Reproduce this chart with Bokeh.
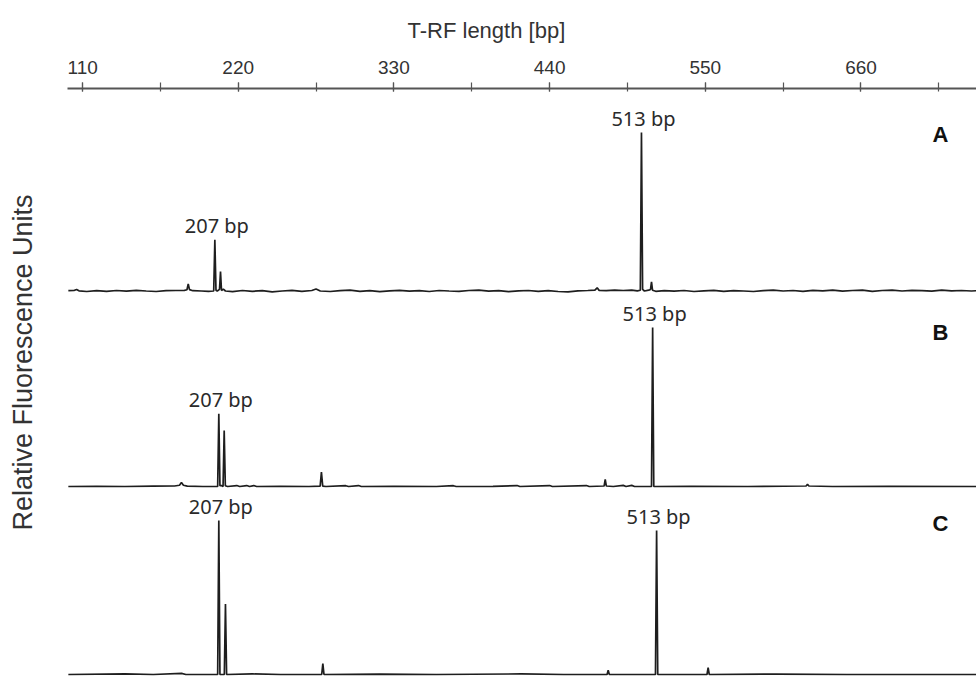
import numpy as np
from bokeh.plotting import figure
from bokeh.layouts import row, column
from bokeh.models import Range1d, SingleIntervalTicker, Label
from bokeh.core.properties import value
from bokeh.embed import file_html
from bokeh.resources import INLINE

# ---------------- data (T-RF length in bp, relative fluorescence in % of the 513 bp peak) -------------
A_bp = [100, 104, 105.8, 107.5, 113, 120, 127, 134, 141, 148, 155, 162, 169, 176, 182, 183.8, 184.7, 185.6,
        188, 194, 199, 202.7, 203.5, 204.3, 205.2, 206.8, 207.5, 208.2, 209.5, 211, 216, 223, 230, 237, 244,
        251, 258, 265, 272, 275, 278, 285, 292, 299, 306, 313, 320, 327, 334, 341, 348, 355, 362, 369, 376,
        383, 390, 397, 404, 411, 418, 425, 432, 439, 446, 453, 460, 467, 472, 473.6, 475, 480, 486, 492, 498,
        502, 504.1, 504.9, 505.7, 507, 510, 511.3, 512, 512.7, 515, 521, 528, 535, 542, 549, 556, 563, 570,
        577, 584, 591, 598, 605, 612, 619, 626, 633, 640, 647, 654, 661, 668, 675, 682, 689, 696, 703, 710,
        717, 724, 731, 738, 742]
A_rfu = [0.2, 0.3, 1.0, 0.1, -0.3, 0.2, -0.2, 0.3, -0.1, 0.4, 0.0, -0.3, 0.2, 0.3, 0.4, 0.8, 4.4, 0.9,
         0.2, 0.0, -0.2, 0.0, 32.3, 0.5, 0.0, 1.0, 12.3, 0.3, 1.2, 0.0, -0.4, 0.3, -0.2, 0.2, -0.5,
         0.0, 0.4, -0.2, 0.3, 1.3, 0.0, -0.3, 0.2, 0.5, -0.2, 0.2, -0.4, 0.1, 0.4, -0.1, 0.2, -0.3, 0.3, 0.0, -0.2,
         0.3, 0.6, -0.1, 0.2, -0.4, 0.1, 0.3, -0.2, 0.2, -0.3, -0.6, 0.1, 0.3, 0.5, 2.0, 0.4, 0.2, 0.5, 0.3, 0.6,
         0.1, 0.5, 100.0, 1.0, 0.0, 0.5, 1.0, 5.7, 0.5, -0.2, 0.2, -0.1, 0.3, -0.3, 0.1, 0.4, -0.2, 0.2,
         0.0, -0.3, 0.2, 0.5, 0.0, 0.3, -0.2, 0.4, 0.1, 0.6, -0.1, 0.3, 0.5, -0.2, 0.3, 0.6, 0.0, 0.4, 0.2, -0.1,
         0.5, 0.1, 0.3, 0.0, 0.2]

B_bp = [100, 120, 140, 160, 175, 178.5, 179.9, 181.3, 184, 195, 205.5, 206.3, 207.1, 208.4, 209.3, 210.1,
        210.9, 212.5, 219, 221, 226, 228, 231, 233, 250, 270, 277.9, 278.8, 279.7, 282, 296, 298, 305, 307,
        330, 360, 372, 374, 400, 417, 419, 440, 442, 466, 468, 478.5, 479.3, 480.1, 485, 492, 494, 498, 500,
        512.0, 512.8, 513.6, 540, 580, 621.2, 622.2, 623.2, 640, 680, 742]
B_rfu = [0.0, 0.1, 0.0, 0.2, 0.3, 0.8, 2.5, 0.8, 0.2, 0.0, 0.0, 45.7, 0.5, 0.5, 0.0, 35.2,
         0.5, 0.0, 0.6, 0.0, 0.6, 0.0, 0.6, 0.0, 0.1, 0.0, 0.2, 9.0, 0.2, 0.0, 0.5, 0.0, 0.6, 0.0,
         0.1, 0.0, 0.5, 0.0, 0.1, 0.6, 0.0, 0.6, 0.0, 0.6, 0.0, 0.3, 4.4, 0.3, 0.0, 0.7, 0.0, 0.7, 0.0,
         0.0, 100.0, 0.0, 0.1, 0.0, 0.3, 1.3, 0.3, 0.0, 0.1, 0.0]

C_bp = [100, 140, 160, 180, 183, 205.5, 206.3, 207.1, 210.2, 211.0, 211.8, 230, 250, 279.0, 279.8, 280.6,
        320, 360, 420, 450, 480.6, 481.4, 482.2, 514.8, 515.6, 516.4, 551.2, 552.0, 552.8, 600, 650, 742]
C_rfu = [0.0, 0.4, 0.0, 0.8, 0.0, 0.0, 106.9, 0.0, 0.0, 49.0, 0.0, 0.4, 0.0, 0.0, 7.6, 0.0,
         0.3, 0.0, 0.4, 0.0, 0.0, 3.0, 0.0, 0.0, 100.0, 0.0, 0.0, 4.8, 0.0, 0.3, 0.0, 0.0]

peak_text = ["207 bp", "513 bp"]
A_peak_bp, A_peak_rfu = [203.5, 504.9], [32.3, 100.0]
B_peak_bp, B_peak_rfu = [206.3, 512.8], [45.7, 100.0]
C_peak_bp, C_peak_rfu = [206.3, 515.6], [106.9, 100.0]

panel_names = ["A", "B", "C"]
x_ticks_interval = 110
x_title = "T-RF length [bp]"
y_title = "Relative Fluorescence Units"

# ---------------- layout ----------------
X_START, X_END = 99.4, 741.6
LINE = "#1e1e1e"
TXT = "#2a2a2a"


def panel(height, ystart, yend, bp, rfu, pk_bp, pk_rfu, name, name_y, top=False):
    p = figure(width=909, height=height, output_backend="svg", toolbar_location=None,
               x_range=Range1d(X_START, X_END), y_range=Range1d(ystart, yend),
               x_axis_location="above" if top else None, y_axis_location=None,
               min_border_left=0, min_border_right=0, min_border_bottom=0,
               min_border_top=88 if top else 0)
    p.outline_line_color = None
    p.xgrid.visible = False
    p.ygrid.visible = False
    if top:
        ax = p.xaxis[0]
        ax.ticker = SingleIntervalTicker(interval=x_ticks_interval, num_minor_ticks=2)
        ax.axis_line_color = "#555555"
        ax.axis_line_width = 2
        ax.major_tick_line_color = "#555555"
        ax.minor_tick_line_color = "#555555"
        ax.major_tick_line_width = 1.2
        ax.minor_tick_line_width = 1.2
        ax.major_tick_in = 3
        ax.major_tick_out = 6
        ax.minor_tick_in = 3
        ax.minor_tick_out = 6
        ax.major_label_text_font = "Liberation Sans"
        ax.major_label_text_font_size = "19px"
        ax.major_label_text_color = "#333333"
        ax.major_label_standoff = 9
        # axis title, placed where the reference has it (page x ~408..568)
        p.title.text = x_title
        p.title.align = "left"
        p.title.offset = 340
        p.title.standoff = 30
        p.title.text_font = "Liberation Sans"
        p.title.text_font_size = "22px"
        p.title.text_font_style = "normal"
        p.title.text_color = "#333333"
    p.line(bp, rfu, line_color=LINE, line_width=1.7, line_join="bevel")
    p.text(x=pk_bp, y=pk_rfu, text=peak_text, x_offset=2, y_offset=-14,
           text_align="center", text_baseline="alphabetic",
           text_font=value("Noto Sans"), text_font_size="20px", text_color=TXT)
    p.add_layout(Label(x=716.1, y=name_y, text=name, text_align="center", text_baseline="middle",
                       text_font="Liberation Sans", text_font_size="22px", text_font_style="bold",
                       text_color="#111111"))
    return p


# frame A: page y 88..293, baseline at 290.5, 100% at 132
sA = 158.5 / 100
pA = panel(293, -2.5 / sA, -2.5 / sA + 205 / sA, A_bp, A_rfu, A_peak_bp, A_peak_rfu,
           panel_names[0], (290.5 - 134) / sA, top=True)
# frame B: page y 293..489, baseline 486, 100% at 327
sB = 159 / 100
pB = panel(196, -3 / sB, -3 / sB + 196 / sB, B_bp, B_rfu, B_peak_bp, B_peak_rfu,
           panel_names[1], (486 - 332) / sB)
# frame C: page y 489..676, baseline 674, 100% at 530
sC = 144 / 100
pC = panel(187, -2 / sC, -2 / sC + 187 / sC, C_bp, C_rfu, C_peak_bp, C_peak_rfu,
           panel_names[2], (674 - 523) / sC)

# left label strip
lab = figure(width=67, height=676, output_backend="svg", toolbar_location=None,
             x_range=Range1d(0, 67), y_range=Range1d(0, 676),
             x_axis_location=None, y_axis_location=None, min_border=0)
lab.outline_line_color = None
lab.xgrid.visible = False
lab.ygrid.visible = False
lab.add_layout(Label(x=22, y=314, text=y_title, angle=np.pi / 2,
                     text_align="center", text_baseline="middle", text_font="Liberation Sans",
                     text_font_size="27px", text_color="#333333"))

layout = row(lab, column(pA, pB, pC, spacing=0), spacing=0)

open("out.html", "w").write(file_html(layout, INLINE))
